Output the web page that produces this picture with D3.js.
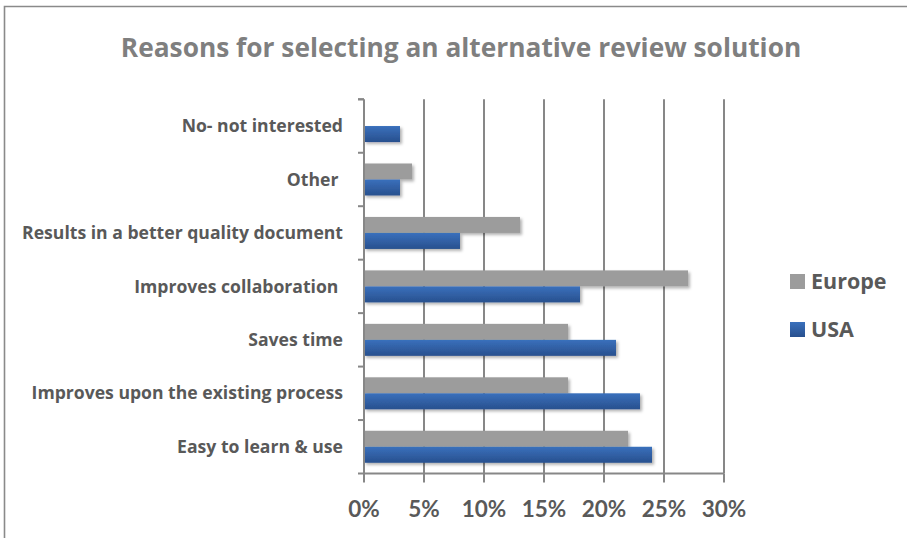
<!DOCTYPE html>
<html><head><meta charset="utf-8">
<script src="https://cdn.jsdelivr.net/npm/d3@7/dist/d3.min.js"></script>
<style>body{margin:0;background:#fff;}svg{display:block;}</style>
</head><body><svg id="c" width="907" height="538"></svg>
<script>
const categories = ["Easy to learn & use","Improves upon the existing process","Saves time","Improves collaboration ","Results in a better quality document","Other ","No- not interested"];
const europe = [22,17,17,27,13,4,0];
const usa = [24,23,21,18,8,3,3];
const seriesNames = ["Europe","USA"];
const xTicks = [0,5,10,15,20,25,30];
const title = "Reasons for selecting an alternative review solution";

(function(){
const svg = d3.select("#c");
const font = "Lato, 'Open Sans', sans-serif";
const font2 = "'Open Sans', Lato, sans-serif";
const defs = svg.append("defs");
const gB = defs.append("linearGradient").attr("id","gBlue").attr("x1",0).attr("y1",0).attr("x2",0).attr("y2",1);
gB.append("stop").attr("offset","0%").attr("stop-color","#3a70bc");
gB.append("stop").attr("offset","100%").attr("stop-color","#28508e");
const f = defs.append("filter").attr("id","sh").attr("x","-10%").attr("y","-30%").attr("width","130%").attr("height","190%");
f.append("feDropShadow").attr("dx",2).attr("dy",2).attr("stdDeviation",1.6).attr("flood-color","#000").attr("flood-opacity",0.3);

// frame
svg.append("path").attr("d","M4.5,538 V6.5 H907").attr("fill","none").attr("stroke","#8a8a8a").attr("stroke-width",1.6);

const pL = 364, pR = 724, pT = 99.3, pB = 473.5;
const x = d3.scaleLinear().domain([0,30]).range([pL,pR]);
const y = d3.scaleBand().domain(categories.slice().reverse()).range([pT,pB]);
const inner = d3.scaleBand().domain(seriesNames).range([0,32]);
const off = (y.bandwidth()-32)/2;

// gridlines
svg.append("g").selectAll("line").data(xTicks.slice(1)).join("line")
  .attr("x1",d=>x(d)).attr("x2",d=>x(d)).attr("y1",pT).attr("y2",pB)
  .attr("stroke","#878787").attr("stroke-width",2);

// bars
const data = categories.map((c,i)=>({c, vals:[{s:"Europe",v:europe[i]},{s:"USA",v:usa[i]}]}));
const g = svg.append("g");
data.forEach(d=>{
  d.vals.forEach(b=>{
    if(b.v<=0) return;
    g.append("rect").attr("x",x(0)).attr("y",y(d.c)+off+inner(b.s))
      .attr("width",x(b.v)-x(0)).attr("height",inner.bandwidth())
      .attr("fill",b.s==="Europe"?"#9c9c9c":"url(#gBlue)")
      .attr("filter","url(#sh)");
  });
});

// y axis
const ya = svg.append("g");
ya.append("line").attr("x1",pL).attr("x2",pL).attr("y1",pT).attr("y2",pB).attr("stroke","#878787").attr("stroke-width",2);
const yEdges = categories.map(c=>y(c)).concat([pT,pB]);
ya.selectAll("line.t").data(yEdges).join("line").attr("class","t")
  .attr("x1",pL-6).attr("x2",pL).attr("y1",d=>d).attr("y2",d=>d).attr("stroke","#878787").attr("stroke-width",2);
ya.selectAll("text").data(categories).join("text")
  .attr("x",343).attr("y",d=>y(d)+y.bandwidth()/2).attr("dy","0.35em")
  .attr("text-anchor","end").attr("font-family",font2).attr("font-weight","bold")
  .attr("font-size",17.6).attr("fill","#595959").style("white-space","pre").text(d=>d);

// x axis
const xa = svg.append("g");
xa.append("line").attr("x1",pL).attr("x2",pR).attr("y1",pB).attr("y2",pB).attr("stroke","#878787").attr("stroke-width",2);
xa.selectAll("line.t").data(xTicks).join("line").attr("class","t")
  .attr("x1",d=>x(d)).attr("x2",d=>x(d)).attr("y1",pB).attr("y2",pB+9).attr("stroke","#878787").attr("stroke-width",2);
xa.selectAll("text").data(xTicks).join("text")
  .attr("x",d=>x(d)).attr("y",517).attr("text-anchor","middle")
  .attr("font-family",font).attr("font-weight","bold").attr("font-size",22.5).attr("fill","#595959")
  .text(d=>d+"%");

// title
svg.append("text").attr("x",461).attr("y",57).attr("text-anchor","middle")
  .attr("font-family",font2).attr("font-weight","bold").attr("font-size",26.3).attr("fill","#7f7f7f").text(title);

// legend
const lg = svg.append("g");
const ly = [274, 322];
seriesNames.forEach((s,i)=>{
  lg.append("rect").attr("x",790).attr("y",ly[i]).attr("width",15).attr("height",15)
    .attr("fill",s==="Europe"?"#9c9c9c":"url(#gBlue)");
  lg.append("text").attr("x",811).attr("y",ly[i]+15).attr("font-family",font2).attr("font-weight","bold")
    .attr("font-size",21.5).attr("fill","#595959").text(s);
});
})();
</script></body></html>
